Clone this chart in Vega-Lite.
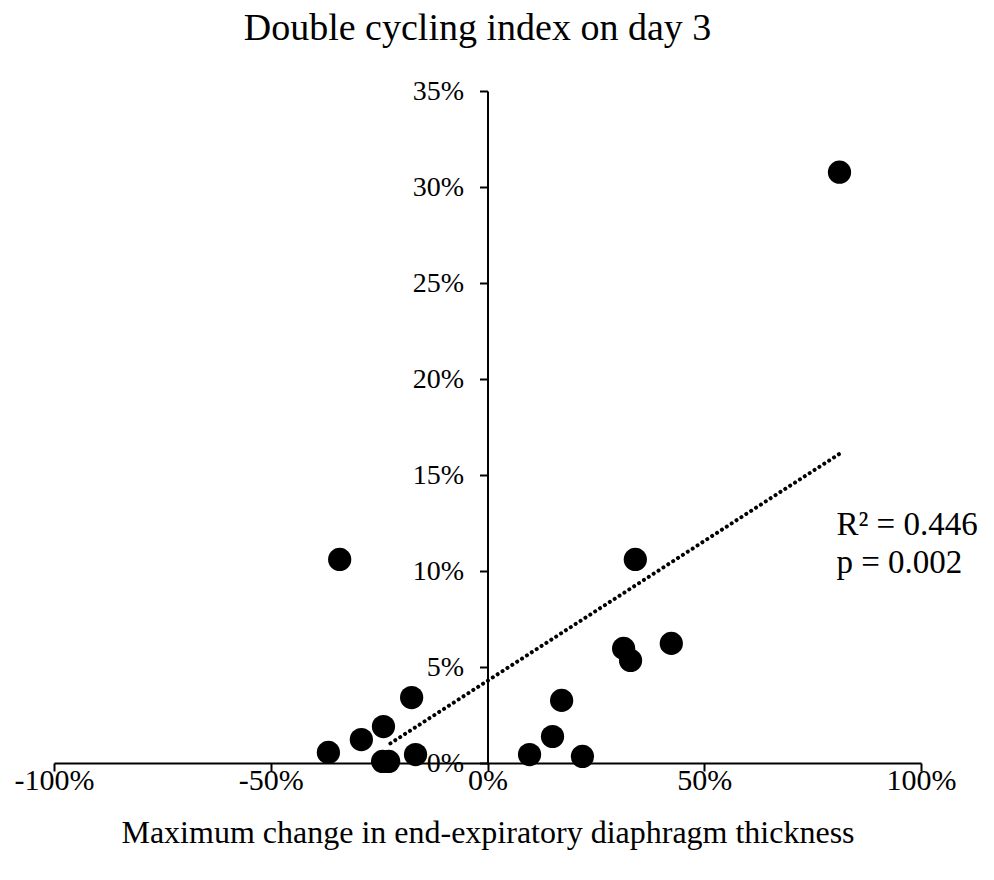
{
  "$schema": "https://vega.github.io/schema/vega-lite/v6.json",
  "autosize": {"type": "none"},
  "width": 867,
  "height": 672,
  "padding": {"left": 54, "top": 91, "right": 73, "bottom": 117},
  "background": "white",
  "config": {
    "font": "Liberation Serif",
    "view": {"stroke": null},
    "axis": {"grid": false, "domainColor": "black", "tickColor": "black", "labelColor": "black", "titleColor": "black", "labelFont": "Liberation Serif", "titleFont": "Liberation Serif"}
  },
  "title": {
    "text": "Double cycling index on day 3",
    "font": "Liberation Serif",
    "fontSize": 38,
    "fontWeight": "normal",
    "color": "black",
    "anchor": "middle",
    "baseline": "alphabetic",
    "dx": -10,
    "offset": -1
  },
  "datasets": {
    "points": [
      {"change": 0.812, "dci": 0.3077},
      {"change": -0.341, "dci": 0.106},
      {"change": 0.341, "dci": 0.106},
      {"change": 0.424, "dci": 0.0623},
      {"change": 0.314, "dci": 0.0597},
      {"change": 0.330, "dci": 0.0534},
      {"change": 0.171, "dci": 0.0326},
      {"change": 0.150, "dci": 0.0138},
      {"change": 0.097, "dci": 0.0044},
      {"change": 0.219, "dci": 0.0034},
      {"change": -0.175, "dci": 0.0341},
      {"change": -0.240, "dci": 0.019},
      {"change": -0.291, "dci": 0.0122},
      {"change": -0.367, "dci": 0.0055},
      {"change": -0.242, "dci": 0.0008},
      {"change": -0.228, "dci": 0.0008},
      {"change": -0.166, "dci": 0.0044}
    ],
    "trend": [
      {"change": -0.224, "dci": 0.0102},
      {"change": 0.814, "dci": 0.1613}
    ],
    "notes": [
      {"change": 0.805, "dci": 0.1186, "label": "R² = 0.446"},
      {"change": 0.805, "dci": 0.0988, "label": "p = 0.002"}
    ]
  },
  "layer": [
    {
      "data": {"name": "trend"},
      "mark": {"type": "line", "color": "black", "strokeWidth": 4, "strokeDash": [0.1, 5.7], "strokeCap": "round"},
      "encoding": {
        "x": {"field": "change", "type": "quantitative", "scale": {"domain": [-1, 1]},
          "axis": {"orient": "bottom", "format": ".0%", "labelExpr": "replace(datum.label, '−', '-')", "labelFlush": false, "values": [-1, -0.5, 0, 0.5, 1], "labelFontSize": 30, "labelPadding": -6, "tickSize": 8, "tickWidth": 2, "domainWidth": 2, "title": "Maximum change in end-expiratory diaphragm thickness", "titleFontSize": 32, "titleFontWeight": "normal", "titlePadding": 22}},
        "y": {"field": "dci", "type": "quantitative", "scale": {"domain": [0, 0.35]},
          "axis": {"orient": "left", "offset": -433.5, "format": ".0%", "values": [0, 0.05, 0.1, 0.15, 0.2, 0.25, 0.3, 0.35], "labelFontSize": 28, "labelPadding": 16, "tickSize": 8, "tickWidth": 2, "domainWidth": 2, "title": null}}
      }
    },
    {
      "data": {"name": "points"},
      "mark": {"type": "circle", "color": "black", "opacity": 1, "size": 540},
      "encoding": {
        "x": {"field": "change", "type": "quantitative"},
        "y": {"field": "dci", "type": "quantitative"}
      }
    },
    {
      "data": {"name": "notes"},
      "mark": {"type": "text", "align": "left", "baseline": "alphabetic", "fontSize": 33, "color": "black", "font": "Liberation Serif"},
      "encoding": {
        "x": {"field": "change", "type": "quantitative"},
        "y": {"field": "dci", "type": "quantitative"},
        "text": {"field": "label"}
      }
    }
  ]
}
